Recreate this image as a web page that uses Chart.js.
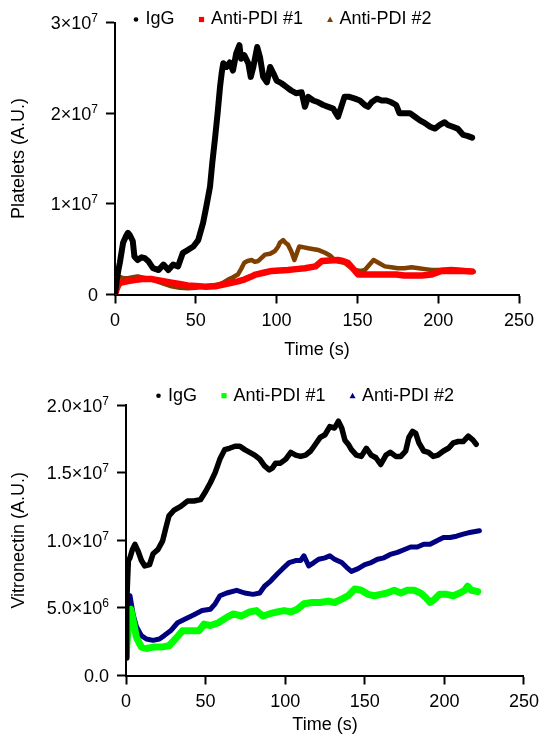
<!DOCTYPE html>
<html>
<head>
<meta charset="utf-8">
<script src="https://cdn.jsdelivr.net/npm/chart.js@4.4.1/dist/chart.umd.min.js"></script>
<style>
  body { margin: 0; background: #fff; }
  canvas { position: absolute; left: 0; }
</style>
</head>
<body>
<canvas id="platelets" width="546" height="370" style="top:0"></canvas>
<canvas id="vitronectin" width="546" height="370" style="top:375px"></canvas>
<script>
// values in units of 10^6 A.U., time in s
const seriesNames = ['IgG', 'Anti-PDI #1', 'Anti-PDI #2'];
const xTicks = [0, 50, 100, 150, 200, 250];

// --- Platelets panel ---
const platIgGTime = [0, 1, 2, 3, 5, 7, 8, 9, 11, 12, 14, 16.5, 18.5, 20.5, 23.5, 27, 30, 33, 36, 39, 42, 45, 48.5, 51.5, 54.5, 56.5, 58.8, 60.2, 62, 63.5, 65, 66, 67, 69, 71, 73, 75, 77, 78, 80, 82.5, 84, 85.6, 88, 89.7, 91.7, 94, 96, 98, 100, 103, 106, 109, 112, 115.5, 117.5, 119.6, 122.7, 125.8, 128.9, 132, 135, 138, 140, 142, 145, 148.5, 151.5, 154.6, 156.7, 158.8, 162, 165, 168, 171, 174, 176, 179, 182.5, 185.6, 188.7, 191.8, 195, 198, 201, 204, 206, 209, 212, 215.5, 218, 221];
const platIgG = [0, 1.5, 2.6, 3.5, 5.7, 6.5, 6.8, 6.6, 5.9, 4.2, 3.8, 4.1, 4.0, 3.7, 2.9, 2.7, 3.3, 2.7, 3.3, 3.1, 4.6, 4.9, 5.3, 6.0, 7.9, 9.7, 11.9, 14.5, 17.4, 20.0, 22.9, 24.4, 25.5, 25.1, 25.6, 24.7, 26.6, 27.5, 26.0, 26.4, 25.5, 24.0, 25.1, 27.3, 26.2, 24.0, 23.4, 25.1, 24.4, 23.6, 23.3, 22.9, 22.5, 22.2, 22.3, 20.7, 21.8, 21.4, 21.2, 20.9, 20.7, 20.5, 19.6, 20.7, 21.8, 21.8, 21.6, 21.4, 20.9, 20.7, 21.2, 21.6, 21.4, 21.4, 21.2, 20.9, 20.0, 20.0, 20.0, 19.6, 19.2, 18.9, 18.5, 18.3, 18.7, 19.0, 18.7, 18.5, 18.3, 17.6, 17.5, 17.3];

const platPdi1Time = [0, 1, 2, 3, 6, 9, 12, 17, 23, 29, 35, 40, 45, 50, 56, 62, 67, 72, 76, 80, 84, 87, 92, 97, 102, 107, 112, 117.5, 124, 128, 133, 138, 141, 144, 147, 150.5, 155, 159, 164, 169, 174, 179, 184, 190, 196, 199, 202, 208, 215.5, 221];
const platPdi1 = [0, 0.6, 1.0, 1.3, 1.4, 1.5, 1.6, 1.7, 1.7, 1.5, 1.3, 1.15, 1.0, 0.95, 0.85, 0.9, 1.1, 1.3, 1.45, 1.65, 1.95, 2.2, 2.4, 2.6, 2.65, 2.7, 2.8, 2.9, 3.1, 3.7, 3.75, 3.8, 3.7, 3.5, 2.9, 2.2, 2.2, 2.2, 2.2, 2.2, 2.2, 2.1, 2.1, 2.1, 2.2, 2.4, 2.6, 2.6, 2.6, 2.55];

const platPdi2Time = [0, 1, 2, 5, 8, 11, 14, 19, 25, 30, 35, 40, 45, 50, 56, 60, 64, 67, 70, 73, 76, 78, 80, 82, 84.5, 86.5, 88.7, 92.8, 96, 99, 101, 102, 104, 105.5, 107, 109, 111, 113, 114, 117, 119.6, 123, 126, 130, 133, 136, 139, 142, 145, 148.5, 152, 154.6, 157, 160, 163, 167, 171, 175, 179, 183.5, 188, 192, 196, 200, 204, 208, 212, 215, 219, 222];
const platPdi2 = [0, 1.5, 2.0, 1.8, 1.8, 1.9, 2.0, 1.8, 1.5, 1.2, 0.9, 0.75, 0.7, 0.75, 0.9, 1.0, 1.1, 1.3, 1.65, 1.9, 2.2, 2.8, 3.5, 3.7, 3.8, 3.6, 3.7, 4.4, 4.5, 4.8, 5.3, 5.7, 6.0, 5.7, 5.5, 4.8, 3.8, 4.8, 5.3, 5.2, 5.1, 5.0, 4.9, 4.6, 4.3, 3.8, 3.6, 3.5, 3.1, 2.7, 2.6, 2.7, 3.2, 3.8, 3.5, 3.1, 3.0, 2.9, 2.9, 3.0, 2.9, 2.8, 2.7, 2.7, 2.75, 2.8, 2.75, 2.7, 2.6, 2.5];

// --- Vitronectin panel ---
const vitIgGTime = [0, 0.3, 0.6, 1, 1.5, 2.5, 4, 5.6, 7.6, 9.7, 11.8, 14.8, 17, 20, 23, 25, 27, 30, 34.4, 38.6, 42.7, 46.8, 50, 53, 56, 59, 62, 65, 68.5, 71.5, 74.6, 77.7, 80.8, 84, 87, 90, 92, 94, 97, 100.4, 103.5, 106.6, 109.7, 112.8, 116, 119, 122, 125, 128, 131, 133.4, 135.5, 137.5, 139.6, 141.6, 144.7, 147.8, 151, 154, 157, 160, 163.3, 166, 169.5, 172.6, 175.7, 177.7, 180, 182, 184, 187, 190, 193, 196, 199.4, 202.5, 205.6, 208.7, 211.8, 215, 218, 220];
const vitIgG = [1.3, 3.4, 5.3, 7.1, 8.5, 8.7, 9.3, 9.7, 9.2, 8.5, 8.1, 8.2, 9.0, 9.3, 9.95, 10.9, 11.8, 12.2, 12.5, 12.9, 12.9, 13.0, 13.6, 14.25, 15.0, 16.0, 16.7, 16.8, 16.95, 16.95, 16.7, 16.5, 16.3, 16.0, 15.5, 15.2, 15.35, 15.7, 15.7, 16.0, 16.5, 16.3, 16.2, 16.3, 16.6, 17.1, 17.6, 17.8, 18.4, 18.3, 18.8, 18.3, 17.4, 17.1, 16.7, 16.3, 16.2, 16.8, 16.3, 16.1, 15.6, 16.3, 16.5, 16.2, 16.2, 16.6, 17.6, 18.05, 17.9, 17.2, 16.6, 16.5, 16.2, 16.3, 16.6, 16.8, 17.2, 17.3, 17.3, 17.7, 17.4, 17.1];

const vitPdi1Time = [0, 1, 2, 3, 4.5, 6.6, 9.7, 12.8, 17, 22, 27, 31, 35.5, 40.6, 45.8, 49, 53, 58, 63.3, 67.4, 72.6, 77.7, 81.9, 86, 90, 95, 99.4, 103.5, 107.6, 111.8, 117, 122, 127, 131, 135.5, 139.6, 143.7, 147.8, 152, 156, 160, 164, 168.5, 172.6, 176.7, 181, 185, 188, 191, 194, 197, 201.4, 205.6, 209.7, 212.8, 214.6, 217, 221];
const vitPdi1 = [1.35, 3.0, 4.5, 4.9, 4.05, 2.8, 2.1, 2.0, 2.1, 2.1, 2.2, 2.7, 3.3, 3.3, 3.3, 3.8, 3.7, 3.9, 4.3, 4.55, 4.4, 4.7, 4.8, 4.4, 4.55, 4.7, 4.8, 4.7, 4.9, 5.3, 5.4, 5.4, 5.5, 5.4, 5.65, 5.9, 6.4, 6.3, 6.0, 5.9, 6.0, 6.1, 6.3, 6.1, 6.3, 6.3, 6.1, 5.8, 5.4, 5.65, 6.0, 6.0, 5.9, 6.1, 6.3, 6.6, 6.3, 6.2];

const vitPdi2Time = [0, 1, 2.5, 4.5, 6.6, 9.7, 12.8, 17, 21, 24, 28, 32.4, 37.5, 42.7, 47.8, 53, 56, 59, 63.3, 69.5, 74.6, 79.8, 84, 87, 91, 95, 98.4, 102.5, 106.6, 109.7, 111.8, 114.8, 118, 121, 125, 128, 131, 135.5, 138.6, 141.6, 145.8, 150, 154, 158, 162, 166, 170.5, 174.6, 178.8, 183, 187, 191, 195, 199.4, 203.5, 207.6, 211.8, 215, 222];
const vitPdi2 = [4.6, 5.2, 5.9, 4.5, 3.6, 2.95, 2.7, 2.6, 2.7, 2.95, 3.3, 3.9, 4.2, 4.5, 4.8, 4.9, 5.3, 5.9, 6.1, 6.3, 6.1, 6.0, 6.1, 6.6, 7.0, 7.5, 7.9, 8.35, 8.5, 8.5, 8.85, 8.1, 8.35, 8.6, 8.7, 8.85, 8.6, 8.35, 8.0, 7.7, 7.9, 8.2, 8.35, 8.6, 8.7, 8.95, 9.1, 9.3, 9.5, 9.5, 9.7, 9.7, 9.95, 10.2, 10.2, 10.3, 10.45, 10.55, 10.7];

// y tick labels as [mantissa, exponent]
const platTicks = [0, 10, 20, 30];
const platTickLabels = [['0', ''], ['1×10', '7'], ['2×10', '7'], ['3×10', '7']];
const vitTicks = [0, 5, 10, 15, 20];
const vitTickLabels = [['0.0', ''], ['5.0×10', '6'], ['1.0×10', '7'], ['1.5×10', '7'], ['2.0×10', '7']];

const FONT = 'Liberation Sans, Arial, Helvetica, sans-serif';

function pts(t, v) {
    return t.map((x, i) => ({ x: x, y: v[i] }));
}

// legend drawn on the canvas so it can sit level with the top tick
const markerLegend = {
    id: 'markerLegend',
    afterDraw(chart, args, opts) {
        const ctx = chart.ctx;
        ctx.save();
        ctx.font = '18px ' + FONT;
        ctx.textBaseline = 'middle';
        let x = opts.x;
        const y = opts.y;
        chart.data.datasets.forEach(ds => {
            ctx.fillStyle = ds.borderColor;
            ctx.beginPath();
            if (ds.marker === 'circle') {
                ctx.arc(x, y, 2.3, 0, Math.PI * 2);
            } else if (ds.marker === 'square') {
                ctx.rect(x - 2.6, y - 2.6, 5.2, 5.2);
            } else {
                ctx.moveTo(x, y - 3);
                ctx.lineTo(x + 3, y + 2.5);
                ctx.lineTo(x - 3, y + 2.5);
                ctx.closePath();
            }
            ctx.fill();
            ctx.fillStyle = '#000';
            ctx.fillText(ds.label, x + 9.5, y);
            x += 9.5 + ctx.measureText(ds.label).width + 27;
        });
        ctx.restore();
    }
};

// y tick labels with a real superscript exponent
const powerTicks = {
    id: 'powerTicks',
    afterDraw(chart, args, opts) {
        const ctx = chart.ctx;
        const sc = chart.scales.y;
        const right = chart.chartArea.left - 9 - 8;
        ctx.save();
        ctx.fillStyle = '#000';
        ctx.textBaseline = 'alphabetic';
        ctx.textAlign = 'left';
        opts.values.forEach((v, i) => {
            const [base, exp] = opts.labels[i];
            const y = sc.getPixelForValue(v) + 6.5;
            ctx.font = '12px ' + FONT;
            const ew = exp ? ctx.measureText(exp).width : 0;
            ctx.font = '18px ' + FONT;
            const bw = ctx.measureText(base).width;
            const x0 = right - bw - ew;
            ctx.fillText(base, x0, y);
            if (exp) {
                ctx.font = '12px ' + FONT;
                ctx.fillText(exp, x0 + bw, y - 7);
            }
        });
        ctx.restore();
    }
};

function makeChart(id, cfg) {
    const ctx = document.getElementById(id).getContext('2d');
    const axisFont = { family: FONT, size: 18 };
    return new Chart(ctx, {
        type: 'scatter',
        data: {
            datasets: cfg.series.map((s, i) => ({
                label: seriesNames[i],
                data: pts(s.t, s.v),
                showLine: true,
                borderColor: s.color,
                backgroundColor: s.color,
                borderWidth: s.width,
                borderJoinStyle: 'round',
                borderCapStyle: 'round',
                pointRadius: 0,
                marker: ['circle', 'square', 'triangle'][i]
            }))
        },
        options: {
            responsive: false,
            animation: false,
            layout: { padding: { top: cfg.top, right: cfg.right, left: 0, bottom: 0 } },
            plugins: {
                legend: { display: false },
                tooltip: { enabled: false },
                markerLegend: { x: cfg.legendX, y: cfg.legendY },
                powerTicks: { values: cfg.yTicks, labels: cfg.yLabels }
            },
            scales: {
                x: {
                    type: 'linear',
                    min: 0, max: 250,
                    afterBuildTicks: sc => { sc.ticks = xTicks.map(v => ({ value: v })); },
                    afterFit: sc => { sc.height = cfg.xHeight; },
                    grid: { drawOnChartArea: false, tickLength: 9, tickColor: '#000', tickWidth: 2 },
                    border: { color: '#000', width: 2 },
                    ticks: { color: '#000', font: axisFont, padding: 7, maxRotation: 0 },
                    title: { display: true, text: 'Time (s)', color: '#000', font: axisFont, padding: { top: 0, bottom: 9 } }
                },
                y: {
                    min: 0, max: cfg.yMax,
                    afterBuildTicks: sc => { sc.ticks = cfg.yTicks.map(v => ({ value: v })); },
                    afterFit: sc => { sc.width = cfg.left; },
                    grid: { drawOnChartArea: false, tickLength: 9, tickColor: '#000', tickWidth: 2 },
                    border: { color: '#000', width: 2 },
                    ticks: { color: 'rgba(0,0,0,0)', font: axisFont, padding: 8 },
                    title: { display: true, text: cfg.yTitle, color: '#000', font: axisFont, padding: { top: 8, bottom: 0 } }
                }
            }
        },
        plugins: [markerLegend, powerTicks]
    });
}

makeChart('platelets', {
    series: [
        { t: platIgGTime, v: platIgG, color: '#000000', width: 6 },
        { t: platPdi1Time, v: platPdi1, color: '#ff0000', width: 6.5 },
        { t: platPdi2Time, v: platPdi2, color: '#7f3f00', width: 4.5 }
    ],
    yMax: 30, yTicks: platTicks, yLabels: platTickLabels, yTitle: 'Platelets (A.U.)',
    top: 22.5, right: 27, left: 115, xHeight: 75.5,
    legendX: 136, legendY: 19.5
});

makeChart('vitronectin', {
    series: [
        { t: vitIgGTime, v: vitIgG, color: '#000000', width: 5.5 },
        { t: vitPdi1Time, v: vitPdi1, color: '#00ff00', width: 7 },
        { t: vitPdi2Time, v: vitPdi2, color: '#000080', width: 5 }
    ],
    yMax: 20, yTicks: vitTicks, yLabels: vitTickLabels, yTitle: 'Vitronectin (A.U.)',
    top: 30, right: 16, left: 126, xHeight: 69.5,
    legendX: 158.5, legendY: 20.7
});
</script>
</body>
</html>
